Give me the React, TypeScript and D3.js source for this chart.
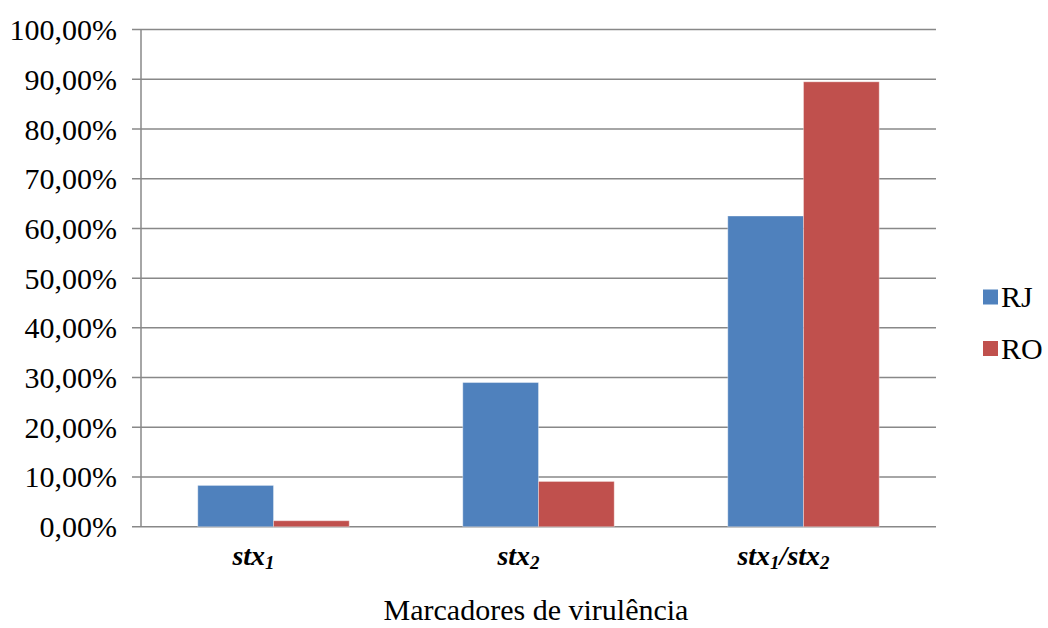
import React from "react";
import * as d3 from "d3";

// Virulence markers (stx genes) by state, as share of isolates (%)
const categories = [
  { main: "stx", sub: "1", rest: "", sub2: "" },
  { main: "stx", sub: "2", rest: "", sub2: "" },
  { main: "stx", sub: "1", rest: "/stx", sub2: "2" },
];
const categoryKeys = ["stx1", "stx2", "stx1/stx2"];
const seriesNames = ["RJ", "RO"];
const rjValues = [8.3, 29.0, 62.5];
const roValues = [1.2, 9.1, 89.5];
const yTicks = [0, 10, 20, 30, 40, 50, 60, 70, 80, 90, 100];
const colors = ["#4F81BD", "#C0504D"];

const W = 1048;
const H = 628;
const left = 141;
const right = 936;
const top = 29.6;
const bottom = 526.7;
const font = "Liberation Serif, Times New Roman, serif";

export default function App() {
  const x0 = d3.scaleBand<string>().domain(categoryKeys).range([left, right]).paddingInner(0).paddingOuter(0);
  const bw = x0.bandwidth();
  // Excel-style gap width 150%: two bars + 1.5 bar widths per band
  const barW = bw / 3.5;
  const x1 = d3
    .scaleBand<string>()
    .domain(seriesNames)
    .range([0.75 * barW, 0.75 * barW + 2 * barW]);
  const y = d3.scaleLinear().domain([0, 100]).range([bottom, top]);
  const series = [rjValues, roValues];
  const fmt = (v: number) => v.toFixed(2).replace(".", ",") + "%";

  return (
    <svg width={W} height={H} style={{ position: "absolute", left: 0, top: 0, background: "#fff" }}>
      {yTicks.map((t) => (
        <g key={t}>
          <line x1={left - 9} x2={right} y1={y(t)} y2={y(t)} stroke="#888" strokeWidth={1.5} />
          <text
            x={117}
            y={y(t)}
            dy="0.35em"
            textAnchor="end"
            fontFamily={font}
            fontSize={30}
            fill="#000"
          >
            {fmt(t)}
          </text>
        </g>
      ))}
      <line x1={left} x2={left} y1={top} y2={bottom} stroke="#888" strokeWidth={1.5} />
      {categoryKeys.map((c, ci) =>
        series.map((vals, si) => (
          <rect
            key={c + si}
            x={(x0(c) as number) + (x1(seriesNames[si]) as number)}
            y={y(vals[ci])}
            width={x1.bandwidth()}
            height={bottom - y(vals[ci])}
            fill={colors[si]}
            stroke="#ffffff"
            strokeOpacity={0.35}
            strokeWidth={1}
          />
        ))
      )}
      {categoryKeys.map((c, ci) => {
        const cat = categories[ci];
        return (
          <text
            key={c}
            x={(x0(c) as number) + bw / 2 - 20}
            y={565}
            textAnchor="middle"
            fontFamily={font}
            fontSize={28}
            fontWeight="bold"
            fontStyle="italic"
          >
            {cat.main}
            <tspan fontSize={19} dy={4}>{cat.sub}</tspan>
            {cat.rest && <tspan dy={-4}>{cat.rest}</tspan>}
            {cat.sub2 && <tspan fontSize={19} dy={4}>{cat.sub2}</tspan>}
          </text>
        );
      })}
      <text x={536} y={620} textAnchor="middle" fontFamily={font} fontSize={30}>
        Marcadores de virulência
      </text>
      {seriesNames.map((s, i) => (
        <g key={s}>
          <rect x={983} y={289.5 + i * 51.5} width={15} height={15} fill={colors[i]} />
          <text x={1001} y={307 + i * 51.5} fontFamily={font} fontSize={30}>
            {s}
          </text>
        </g>
      ))}
    </svg>
  );
}
